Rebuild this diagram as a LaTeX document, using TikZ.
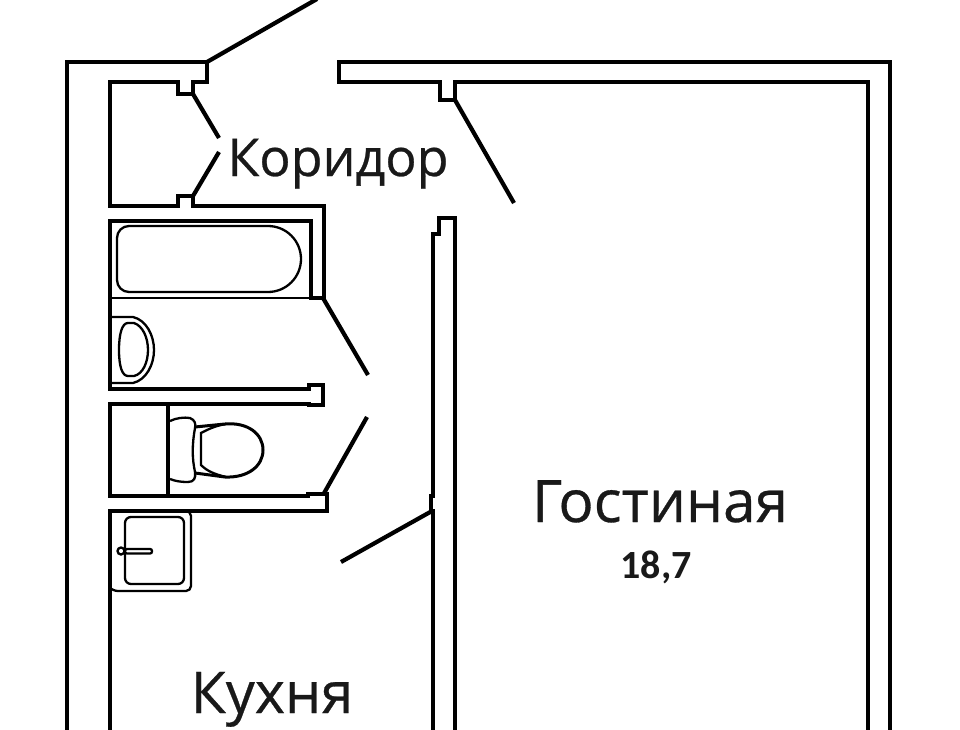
\documentclass[tikz,border=0pt]{standalone}
\usepackage{fontspec}
\setmainfont[FakeBold=0.5]{Open Sans}
\newfontfamily\numfont{Carlito}
\usepackage{tikz}

\begin{document}
\begin{tikzpicture}[x=1pt, y=-1pt, every node/.style={inner sep=0pt, text=black!90}, wall/.style={draw=black, line width=4.7pt, line join=miter}, door/.style={draw=black, line width=4.2pt}, fixture/.style={draw=black, line width=2.3pt}, roomlabel/.style={font=\fontsize{#1}{#1}\selectfont, anchor=base}]
			\useasboundingbox[fill=white] (0,0) rectangle (960,730);
			
			\draw[wall] (67,730) -- (67,62) -- (207,62) -- (207,82) -- (193,82) -- (193,94) -- (178,94) -- (178,82) -- (110,82) -- (110,206) -- (178,206) -- (178,196) -- (193,196) -- (193,206) -- (324,206) -- (324,298) -- (311,298) -- (311,221) -- (110,221) -- (110,389) -- (309,389) -- (309,385) -- (323,385) -- (323,405) -- (309,405) -- (309,404) -- (110,404) -- (110,496) -- (308,496) -- (308,494) -- (327,494) -- (327,511) -- (110,511) -- (110,730);
			\draw[wall] (890,730) -- (890,62) -- (339,62) -- (339,82) -- (440,82) -- (440,100) -- (455,100) -- (455,82) -- (868,82) -- (868,730);
			\draw[wall] (455,730) -- (455,218) -- (439,218) -- (439,234) -- (433,234) -- (433,496) -- (431,496) -- (431,511) -- (433,511) -- (433,730);
			
			\coordinate (e1) at (207,62);
			\coordinate (e2) at (317,-1);
			\coordinate (d1) at (193,94);
			\coordinate (d2) at (219,138);
			\coordinate (d3) at (193,196);
			\coordinate (d4) at (219,152);
			\coordinate (d5) at (455,100);
			\coordinate (d6) at (514,203);
			\coordinate (d7) at (323,298);
			\coordinate (d8) at (368,375);
			\coordinate (d9) at (323,495);
			\coordinate (d10) at (367,417);
			\coordinate (d11) at (432,511);
			\coordinate (d12) at (341,562);
			
			\draw[door] (e1) -- (e2);
			\draw[door] (d1) -- (d2);
			\draw[door] (d3) -- (d4);
			\draw[door] (d5) -- (d6);
			\draw[door] (d7) -- (d8);
			\draw[door] (d9) -- (d10);
			\draw[door] (d11) -- (d12);
			
			\draw[fixture] (129,226) -- (268,226) arc[start angle=-90, end angle=90, radius=33] -- (129,292) arc[start angle=90, end angle=180, radius=12] -- (117,238) arc[start angle=180, end angle=270, radius=12];
			\draw[fixture] (110,298) -- (311,298);
			\draw[fixture] (110,317) -- (133,317) .. controls (146,320) and (154,335) .. (154,350) .. controls (154,365) and (146,380) .. (133,383) -- (110,383);
			\draw[fixture] (128,323) -- (134,323) .. controls (143,326) and (148,338) .. (148,350) .. controls (148,362) and (143,374) .. (134,376) -- (128,376) .. controls (122,376) and (119,366) .. (119,350) .. controls (119,334) and (122,323) .. (128,323);
			
			\draw[wall] (168,404) -- (168,496);
			\draw[fixture] (170,421) .. controls (176,418) and (184,417) .. (190,418) .. controls (195,420) and (196,424) .. (195,428) .. controls (192,445) and (192,458) .. (195,472) .. controls (196,478) and (194,482) .. (188,482) .. controls (180,482) and (175,481) .. (170,479);
			\draw[wall, line width=3pt] (195,427) -- (225,424) .. controls (248,422) and (263,434) .. (263,450) .. controls (263,466) and (248,478) .. (225,477) -- (195,473);
			\draw[fixture] (226,424) .. controls (214,426) and (207,430) .. (201,433) -- (201,465) .. controls (207,471) and (214,474) .. (226,477);
			
			\draw[fixture, rounded corners=5pt] (110,511) -- (191,511) -- (191,591) -- (113,591) -- (110,588);
			\draw[fixture, rounded corners=6pt] (125,517) rectangle (184,584);
			\draw[fixture] (121,551) circle (3.5);
			\draw[fixture, rounded corners=2pt] (125,549) rectangle (152,553.5);
			
			\node[roomlabel=52] (hall) at (338,176) {Коридор};
			\node[roomlabel=58.5] (living) at (660,522) {Гостиная};
			\node[font=\numfont\bfseries\fontsize{40}{40}\selectfont, anchor=base] (area) at (656,578) {18,7};
			\node[roomlabel=57.5] (kitchen) at (272,713) {Кухня};
\end{tikzpicture}
\end{document}
